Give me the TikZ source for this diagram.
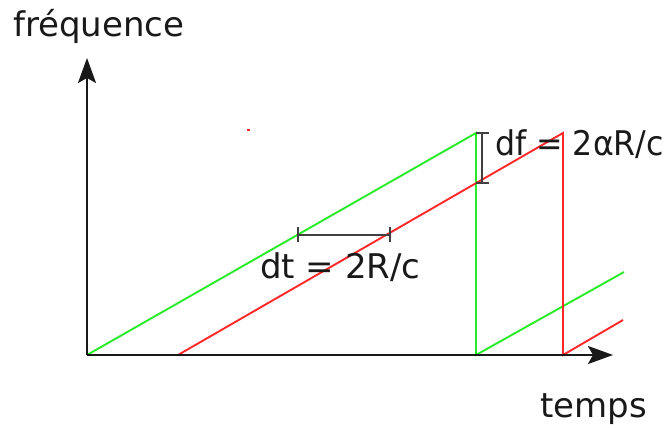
\documentclass[tikz,border=0pt]{standalone}
\usepackage{fontspec}
\usepackage{graphicx}
\setmainfont{DejaVu Sans}
\usetikzlibrary{arrows.meta}
\begin{document}
\begin{tikzpicture}[x=1pt,y=-1pt,
  axis/.style={line width=2.2pt,draw=black!90,-{Stealth[length=25pt,width=18pt,inset=5pt]}},
  gline/.style={line width=1.9pt,draw={rgb,255:red,40;green,235;blue,40}},
  rline/.style={line width=1.9pt,draw={rgb,255:red,255;green,40;blue,40}},
  marker/.style={line width=1.6pt,draw=black!75},
  lbl/.style={inner sep=0pt,font=\fontsize{34}{40}\selectfont,text=black!90}]
\useasboundingbox (0,0) rectangle (667,428);
% coordinates
\coordinate (O) at (87,355);
\coordinate (Ytop) at (87,58);
\coordinate (Xend) at (613,355);
\coordinate (g1s) at (87,355);
\coordinate (g1e) at (476,133);
\coordinate (g1b) at (476,355);
\coordinate (g2e) at (624,272);
\coordinate (r1s) at (178,355);
\coordinate (r1e) at (563,133);
\coordinate (r1b) at (563,355);
\coordinate (r2e) at (623,320);
\coordinate (dfT) at (482,133);
\coordinate (dfB) at (482,183);
\coordinate (dtL) at (298,235);
\coordinate (dtR) at (390,235);
% ramps
\draw[gline] (g1s) -- (g1e) -- (g1b) -- (g2e);
\draw[rline] (r1s) -- (r1e) -- (r1b) -- (r2e);
\draw[rline,line width=1.2pt] (247,130) -- (250,130);
% axes
\draw[axis] (O) -- (Ytop);
\draw[axis] (O) -- (Xend);
% markers
\draw[marker] (dfT) -- (dfB);
\draw[marker] ([xshift=-6]dfT) -- ([xshift=7]dfT);
\draw[marker] ([xshift=-6]dfB) -- ([xshift=7]dfB);
\draw[marker] (dtL) -- (dtR);
\draw[marker] ([yshift=-7]dtL) -- ([yshift=8]dtL);
\draw[marker] ([yshift=-7]dtR) -- ([yshift=8]dtR);
% labels
\node[lbl,anchor=base west] (freq) at (13,37) {fréquence};
\node[lbl,anchor=base west] (temps) at (540,417) {temps};
\node[lbl,anchor=base west] (dt) at (260,278) {dt = 2R/c};
\node[lbl,anchor=base west] (df) at (495,155) {\scalebox{0.93}[1]{df = 2αR/c}};
\end{tikzpicture}
\end{document}
